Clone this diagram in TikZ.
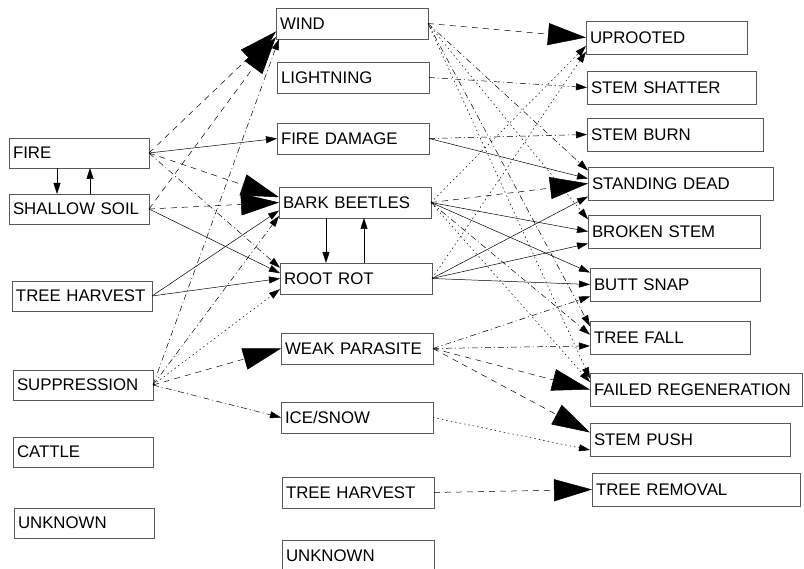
\documentclass[tikz,border=0pt]{standalone}
\usepackage{fontspec}
\setmainfont{Liberation Sans}
\usetikzlibrary{arrows.meta}

\tikzset{
  box/.style={draw=black!65, line width=0.5pt, rectangle, anchor=north west, inner xsep=4pt, inner ysep=0pt, outer sep=0pt, align=left, font=\fontsize{16.8}{18}\selectfont},
  lft/.style={box, text width=132pt, minimum height=30pt},
  mid/.style={box, text width=144pt, minimum height=31pt},
  rgt/.style={box, minimum height=33pt},
  link/.style={line width=0.5pt, black},
  bighead/.style={-{Triangle[length=38pt,width=22pt]}},
  smallhead/.style={-{Triangle[length=11pt,width=7pt]}},
  dashlink/.style={link, dash pattern=on 6pt off 5pt},
  dashdotlink/.style={link, dash pattern=on 6pt off 3pt on 1pt off 3pt},
  dotlink/.style={link, dash pattern=on 1.5pt off 3pt},
}

\begin{document}
\begin{tikzpicture}[x=1pt,y=1pt,yscale=-1,xscale=1]
\useasboundingbox (0,0) rectangle (804,569);

% Text Node (causes)
\node[lft] (fire)    at (9,138)  {FIRE};
\node[lft] (soil)    at (9,194)  {SHALLOW SOIL};
\node[lft] (harvest) at (12,281) {TREE HARVEST};
\node[lft] (suppr)   at (13,370) {SUPPRESSION};
\node[lft] (cattle)  at (13,437) {CATTLE};
\node[lft] (unkL)    at (14,508) {UNKNOWN};

% Text Node (agents)
\node[mid] (wind)      at (276,8)   {WIND};
\node[mid] (lightning) at (277,62)  {LIGHTNING};
\node[mid] (firedmg)   at (277,123) {FIRE DAMAGE};
\node[mid] (beetles)   at (279,187) {BARK BEETLES};
\node[mid] (rootrot)   at (280,263) {ROOT ROT};
\node[mid] (weak)      at (281,333) {WEAK PARASITE};
\node[mid] (ice)       at (281,402) {ICE/SNOW};
\node[mid] (harvestM)  at (282,477) {TREE HARVEST};
\node[mid] (unkM)      at (282,540) {UNKNOWN};

% Text Node (effects)
\node[rgt, text width=153pt] (uprooted) at (586,21)  {UPROOTED};
\node[rgt, text width=161pt] (shatter)  at (587,71)  {STEM SHATTER};
\node[rgt, text width=168pt] (burn)     at (587,118) {STEM BURN};
\node[rgt, text width=177pt] (dead)     at (588,167) {STANDING DEAD};
\node[rgt, text width=164pt] (broken)   at (588,215) {BROKEN STEM};
\node[rgt, text width=162pt] (butt)     at (590,268) {BUTT SNAP};
\node[rgt, text width=152pt] (fall)     at (590,321) {TREE FALL};
\node[rgt, text width=204pt] (failed)   at (590,373) {FAILED REGENERATION};
\node[rgt, text width=192pt] (push)     at (590,423) {STEM PUSH};
\node[rgt, text width=200pt] (removal)  at (592,473) {TREE REMOVAL};

%Straight Lines (causes to agents)
\draw[dashlink, bighead] (fire.east) -- (wind.186);
\draw[dashlink, bighead] (soil.east) -- (wind.190);
\draw[dashdotlink, smallhead] (suppr.east) -- (wind.192);
\draw[link, smallhead] (fire.east) -- (firedmg.west);
\draw[dashlink, bighead] (fire.east) -- (beetles.176);
\draw[dashlink, bighead] (soil.east) -- (beetles.west);
\draw[dashdotlink, smallhead] (fire.east) -- (rootrot.172);
\draw[link, smallhead] (soil.east) -- (rootrot.176);
\draw[link, smallhead] (harvest.east) -- (beetles.186);
\draw[link, smallhead] (harvest.east) -- (rootrot.west);
\draw[dashdotlink, smallhead] (suppr.east) -- (beetles.190);
\draw[dotlink, smallhead] (suppr.east) -- (rootrot.188);
\draw[dashlink, bighead] (suppr.east) -- (weak.west);
\draw[dashdotlink, smallhead] (suppr.east) -- (ice.west);

%Straight Lines (feedback)
\draw[link, smallhead] ([xshift=48pt]fire.south west) -- ([xshift=48pt]soil.north west);
\draw[link, smallhead] ([xshift=81pt]soil.north west) -- ([xshift=81pt]fire.south west);
\draw[link, smallhead] ([xshift=47pt]beetles.south west) -- ([xshift=46pt]rootrot.north west);
\draw[link, smallhead] ([xshift=84pt]rootrot.north west) -- ([xshift=85pt]beetles.south west);

%Straight Lines (agents to effects)
\draw[dashlink, bighead] (wind.east) -- (uprooted.west);
\draw[dashdotlink, smallhead] (wind.east) -- (dead.172);
\draw[dotlink, smallhead] (wind.east) -- (broken.172);
\draw[dashdotlink, smallhead] (wind.east) -- (fall.172);
\draw[dotlink, smallhead] (wind.east) -- (failed.174);
\draw[dashdotlink, smallhead] (lightning.east) -- (shatter.west);
\draw[dashdotlink, smallhead] (firedmg.east) -- (burn.west);
\draw[link, smallhead] (firedmg.east) -- (dead.177);
\draw[dotlink, smallhead] (beetles.east) -- (uprooted.186);
\draw[dashlink, bighead] (beetles.east) -- (dead.west);
\draw[link, smallhead] (beetles.east) -- (broken.180);
\draw[link, smallhead] (beetles.east) -- (butt.172);
\draw[dashdotlink, smallhead] (beetles.east) -- (fall.178);
\draw[dotlink, smallhead] (beetles.east) -- (failed.176);
\draw[dotlink, smallhead] (rootrot.east) -- (uprooted.190);
\draw[link, smallhead] (rootrot.east) -- (dead.188);
\draw[link, smallhead] (rootrot.east) -- (broken.188);
\draw[link, smallhead] (rootrot.east) -- (butt.180);
\draw[dashdotlink, smallhead] (weak.east) -- (butt.188);
\draw[dashdotlink, smallhead] (weak.east) -- (fall.186);
\draw[dashlink, bighead] (weak.east) -- (failed.west);
\draw[dashlink, bighead] (weak.east) -- (push.176);
\draw[dotlink, smallhead] (ice.east) -- (push.186);
\draw[dashlink, bighead] (harvestM.east) -- (removal.west);

\end{tikzpicture}
\end{document}
